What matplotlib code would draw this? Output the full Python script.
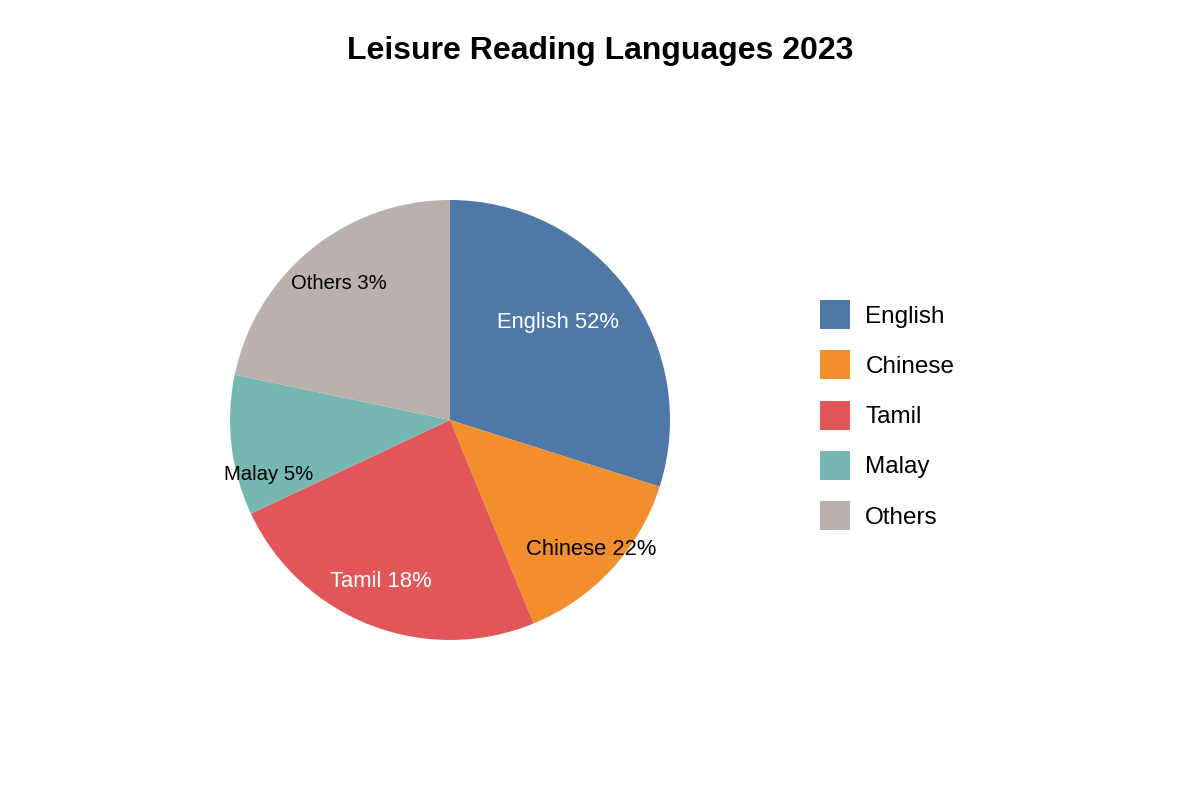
import matplotlib.pyplot as plt
from matplotlib.patches import Patch
import numpy as np

plt.rcParams['font.family'] = ['Liberation Sans', 'DejaVu Sans']

# Data (slice sizes as drawn, labels as printed)
languages = ['English', 'Chinese', 'Tamil', 'Malay', 'Others']
slice_sizes = [29.9, 13.9, 24.2, 10.3, 21.7]
label_pcts = [52, 22, 18, 5, 3]

colors = ['#4E79A7', '#F28E2B', '#E15759', '#76B7B2', '#BAB0AC']
text_colors = ['white', 'black', 'white', 'black', 'black']
label_sizes = [15.8, 15.8, 15.8, 14.6, 14.6]
label_radius = [0.66, 0.87, 0.80, 0.86, 0.80]
label_angle_shift = [6, 0, -2, 10, 0]

fig = plt.figure(figsize=(12, 8), dpi=100)
ax = fig.add_axes([230 / 1200, 160 / 800, 440 / 1200, 440 / 800])

wedges, _ = ax.pie(slice_sizes, colors=colors, startangle=90,
                   counterclock=False, radius=1.0)
ax.set_xlim(-1, 1)
ax.set_ylim(-1, 1)
ax.set_aspect('equal')
ax.axis('off')

# Labels inside the slices
for w, name, pct, tc, fs, r, da in zip(wedges, languages, label_pcts,
                                        text_colors, label_sizes,
                                        label_radius, label_angle_shift):
    mid = np.deg2rad((w.theta1 + w.theta2) / 2 + da)
    ax.text(r * np.cos(mid), r * np.sin(mid), f'{name} {pct}%',
            ha='center', va='center', color=tc, fontsize=fs)

fig.text(0.5, 1 - 51 / 800, 'Leisure Reading Languages 2023',
         fontsize=23, fontweight='bold', ha='center', va='center')

handles = [Patch(facecolor=c, edgecolor='none') for c in colors]
fig.legend(handles, languages, loc='upper left',
           bbox_to_anchor=(798 / 1200, 1 - 278 / 800), frameon=False,
           fontsize=17.5, handlelength=1.25, handleheight=1.47,
           labelspacing=0.87, handletextpad=0.62)

plt.savefig('out.png', dpi=100)
